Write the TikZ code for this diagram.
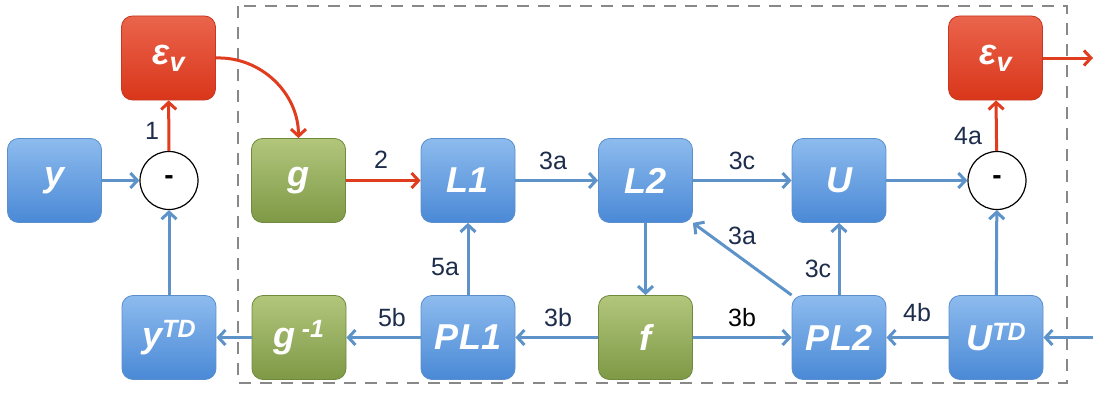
\documentclass[tikz,border=0pt]{standalone}
\usepackage{fontspec}
\setmainfont{Liberation Sans}
\usetikzlibrary{arrows.meta}
\definecolor{bTop}{HTML}{8DBBEE}
\definecolor{bBot}{HTML}{4A89D6}
\definecolor{bBorder}{HTML}{5B8FCB}
\definecolor{gTop}{HTML}{B2C67C}
\definecolor{gBot}{HTML}{7E9946}
\definecolor{gBorder}{HTML}{6F8A3C}
\definecolor{rTop}{HTML}{EA644C}
\definecolor{rBot}{HTML}{D9361A}
\definecolor{rBorder}{HTML}{C8371E}
\definecolor{lineB}{HTML}{5E93C9}
\definecolor{lineR}{HTML}{E03C1E}
\definecolor{labC}{HTML}{1E2D4C}
\definecolor{frameC}{HTML}{888888}
\newcommand{\nodefont}{\fontsize{36}{40}\selectfont\bfseries\itshape}
\newcommand{\supf}{\fontsize{25}{26}\selectfont\bfseries\itshape}
\newcommand{\labfont}{\fontsize{25}{28}\selectfont}
\tikzset{
  box/.style={rounded corners=11pt, minimum width=94pt, minimum height=84pt,
    inner sep=0pt, text=white, font=\nodefont, line width=0.8pt},
  bluebox/.style={box, top color=bTop, bottom color=bBot, draw=bBorder},
  greenbox/.style={box, top color=gTop, bottom color=gBot, draw=gBorder},
  redbox/.style={box, top color=rTop, bottom color=rBot, draw=rBorder},
  sumc/.style={circle, draw=black, line width=1.2pt, minimum size=58pt,
    inner sep=0pt, fill=white, font=\fontsize{28}{28}\selectfont\bfseries},
  bl/.style={draw=lineB, line width=3pt, -{Straight Barb[length=7pt,width=15pt]}},
  rl/.style={draw=lineR, line width=3pt, -{Straight Barb[length=7pt,width=15pt]}},
  lab/.style={font=\labfont, text=labC, inner sep=0pt},
  frame/.style={draw=frameC, line width=2.8pt, dash pattern=on 12pt off 9pt}
}
\begin{document}
\begin{tikzpicture}[x=1pt,y=1pt]
\useasboundingbox (0,0) rectangle (1093,392);
\draw[frame] (238,386) rectangle (1067,9);
% nodes
\node[redbox] (epsL) at (168.5,334) {ε\raisebox{-7pt}{\fontsize{27}{27}\selectfont v}};
\node[bluebox] (yN) at (54.5,211.5) {y};
\node[sumc] (cL) at (169,211.5) {-};
\node[bluebox] (ytd) at (169,54.5) {y\raisebox{10pt}{\supf TD}};
\node[greenbox] (g) at (298.5,211.5) {g};
\node[greenbox] (ginv) at (299,54.5) {g\,\raisebox{10pt}{\supf -1}};
\node[bluebox] (L1) at (468,211.5) {L1};
\node[bluebox] (PL1) at (468,54.5) {PL1};
\node[bluebox] (L2) at (645.5,211.5) {L2};
\node[greenbox] (f) at (645.5,54.5) {f};
\node[bluebox] (U) at (839,211.5) {U};
\node[bluebox] (PL2) at (839,54.5) {PL2};
\node[sumc] (cR) at (997,211.5) {-};
\node[bluebox] (UTD) at (996,54.5) {U\raisebox{10pt}{\supf TD}};
\node[redbox] (epsR) at (995.5,334) {ε\raisebox{-7pt}{\fontsize{27}{27}\selectfont v}};
\coordinate (outR) at (1093,334);
\coordinate (inR) at (1093,54.5);
% connectors
\draw[bl] (yN) -- (cL);
\draw[bl] (ytd) -- (cL);
\draw[rl] (cL) -- (epsL);
\draw[rl] (epsL.east) to[out=2,in=90] (g.north);
\draw[rl] (g) -- (L1);
\draw[bl] (L1) -- (L2);
\draw[bl] (L2) -- (U);
\draw[bl] (U) -- (cR);
\draw[rl] (cR) -- (epsR);
\draw[rl] (epsR) -- (outR);
\draw[bl] (inR) -- (UTD);
\draw[bl] (UTD) -- (cR);
\draw[bl] (UTD) -- (PL2);
\draw[bl] (PL2) -- (U);
\draw[bl] (PL2.north west) -- (L2.south east);
\draw[bl] (L2) -- (f);
\draw[bl] (f) -- (PL1);
\draw[bl] (f) -- (PL2);
\draw[bl] (PL1) -- (L1);
\draw[bl] (PL1) -- (ginv);
\draw[bl] (ginv) -- (ytd);
% labels
\node[lab] (l1) at (152,261) {1};
\node[lab] (l2) at (381,232) {2};
\node[lab] (l3a) at (553,231) {3a};
\node[lab] (l3c) at (742,231) {3c};
\node[lab] (l4a) at (968,256) {4a};
\node[lab] (l3ad) at (742,156) {3a};
\node[lab] (l5a) at (445,125) {5a};
\node[lab] (l3cv) at (818,123) {3c};
\node[lab] (l5b) at (392,74) {5b};
\node[lab] (l3b) at (558,74) {3b};
\node[lab,text=black] (l3b2) at (742,74) {3b};
\node[lab] (l4b) at (917,79) {4b};
\end{tikzpicture}
\end{document}
